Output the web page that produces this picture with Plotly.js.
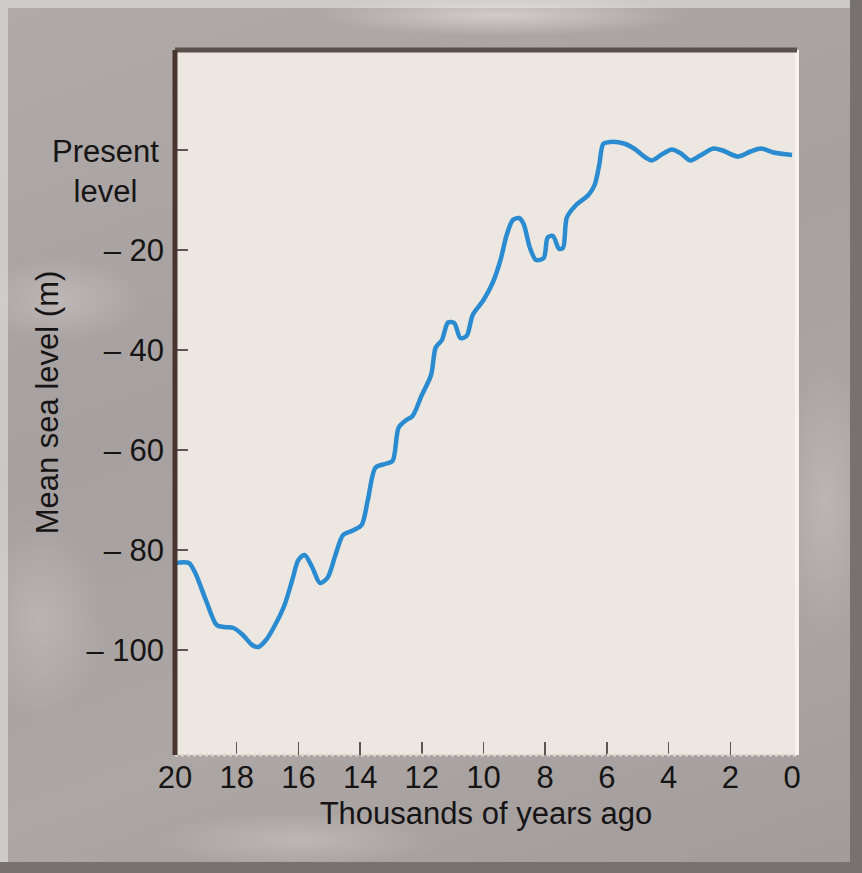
<!DOCTYPE html>
<html>
<head>
<meta charset="utf-8">
<script src="https://cdn.plot.ly/plotly-3.0.1.min.js"></script>
<style>
  html, body { margin: 0; padding: 0; }
  #wrap {
    position: relative; width: 862px; height: 873px; overflow: hidden;
    background:
      radial-gradient(ellipse 120px 60px at 60px 300px, rgba(225,220,218,0.35), rgba(0,0,0,0) 70%),
      radial-gradient(ellipse 90px 140px at 40px 620px, rgba(225,220,218,0.30), rgba(0,0,0,0) 70%),
      radial-gradient(ellipse 200px 40px at 300px 840px, rgba(225,220,215,0.35), rgba(0,0,0,0) 70%),
      radial-gradient(ellipse 260px 30px at 500px 15px, rgba(240,236,232,0.55), rgba(0,0,0,0) 70%),
      radial-gradient(ellipse 60px 200px at 825px 500px, rgba(215,210,205,0.35), rgba(0,0,0,0) 70%),
      linear-gradient(160deg, #b0aba9 0%, #a6a1a0 40%, #aca7a5 70%, #a19c9b 100%);
    box-shadow: inset -12px -11px 0 #77716f, inset 8px 8px 0 rgba(240,238,235,0.5);
  }
  #chart { position: absolute; left: 0; top: 0; }
</style>
</head>
<body>
<div id="wrap"><div id="chart"></div></div>
<script>
// Thousands of years ago
var years = [20.0, 19.55, 19.35, 19.0, 18.65, 18.4, 18.1, 17.8, 17.5, 17.3, 17.05, 16.8, 16.45, 16.2, 16.0, 15.8, 15.55, 15.3, 15.05, 14.8, 14.55, 14.2, 13.95, 13.75, 13.5, 13.2, 12.95, 12.75, 12.5, 12.3, 12.0, 11.7, 11.55, 11.35, 11.15, 10.95, 10.75, 10.55, 10.35, 10.0, 9.7, 9.45, 9.25, 9.05, 8.85, 8.7, 8.5, 8.3, 8.05, 7.92, 7.75, 7.55, 7.42, 7.3, 7.0, 6.6, 6.4, 6.25, 6.12, 5.9, 5.45, 5.1, 4.75, 4.55, 4.2, 3.9, 3.6, 3.3, 2.95, 2.55, 2.25, 1.75, 1.35, 1.0, 0.6, 0.0];
// Mean sea level relative to present (m)
var seaLevel = [-82.6, -82.6, -84.5, -90, -95, -95.4, -95.6, -97, -99, -99.4, -98, -95.5, -91, -86, -82, -81, -83.5, -86.6, -85.5, -81, -77, -76, -75, -70, -63.5, -62.8, -62.2, -55.5, -54, -53.2, -49, -45, -39.5, -38, -34.5, -34.6, -37.6, -37.2, -33, -30, -26.5, -22, -17, -14, -13.6, -14.8, -19.5, -22, -21.6, -17.5, -17.2, -19.8, -19.5, -13.5, -11, -9, -7, -3, 1.2, 1.6, 1.3, 0.2, -1.5, -2.1, -0.8, 0.1, -0.7, -2.1, -1.0, 0.3, -0.1, -1.3, -0.3, 0.3, -0.5, -1.0];

var xTickVals = [20, 18, 16, 14, 12, 10, 8, 6, 4, 2, 0];
var xTickText = ['20', '18', '16', '14', '12', '10', '8', '6', '4', '2', '0'];
var xInnerTicks = [18, 16, 14, 12, 10, 8, 6, 4, 2];
var yTickVals = [0, -20, -40, -60, -80, -100];
var yTickText = ['', '\u2013 20', '\u2013 40', '\u2013 60', '\u2013 80', '\u2013 100'];
var presentLabel = 'Present<br>level';

var FONT = 'Liberation Sans, Arial, Helvetica, sans-serif';
var FS = 31;
var TXT = '#161414';
var xRange = [20, -0.16];

var trace = {
  x: years, y: seaLevel, type: 'scatter', mode: 'lines',
  line: { color: '#2a8bd0', width: 4.5, shape: 'spline', smoothing: 0.8 },
  hoverinfo: 'skip', showlegend: false
};

var layout = {
  width: 862, height: 873,
  margin: { l: 175, r: 65, t: 50, b: 118, pad: 0 },
  paper_bgcolor: 'rgba(0,0,0,0)',
  plot_bgcolor: '#ece8e1',
  font: { family: FONT, color: TXT, size: FS },
  xaxis: {
    range: xRange, tickvals: xTickVals, ticktext: xTickText,
    ticks: '', showgrid: false, zeroline: false, showline: false,
    tickfont: { size: FS, color: TXT }, ticklabelstandoff: 1,
    title: { text: 'Thousands of years ago', font: { size: FS, color: TXT }, standoff: 8 },
    fixedrange: true
  },
  xaxis2: {
    overlaying: 'x', matches: 'x', range: xRange, tickvals: xInnerTicks,
    showticklabels: false, ticks: 'inside', ticklen: 13, tickwidth: 1.5, tickcolor: '#5c5552',
    showgrid: false, zeroline: false, showline: false, side: 'bottom'
  },
  yaxis: {
    range: [-121, 20], tickvals: yTickVals, ticktext: yTickText,
    ticks: 'inside', ticklen: 13, tickwidth: 1.5, tickcolor: '#5c5552',
    showgrid: false, zeroline: false, showline: false,
    tickfont: { size: FS, color: TXT }, ticklabelstandoff: 10,
    title: { text: 'Mean sea level (m)', font: { size: FS, color: TXT }, standoff: 18 },
    fixedrange: true
  },
  annotations: [
    { text: presentLabel, xref: 'paper', yref: 'y', x: 0, y: 0, xanchor: 'right', yanchor: 'middle',
      xshift: -14, yshift: -21, align: 'center', showarrow: false, font: { size: FS, color: TXT } }
  ],
  shapes: [
    { type: 'line', xref: 'paper', yref: 'paper', x0: 0, x1: 1, y0: 0, y1: 0, line: { color: '#dcd7d0', width: 3, dash: 'dot' }, layer: 'above' },
    { type: 'line', xref: 'paper', yref: 'paper', x0: 1, x1: 1, y0: 0, y1: 1, line: { color: '#f6f3ee', width: 4 }, layer: 'above' },
    { type: 'line', xref: 'paper', yref: 'paper', x0: 0, x1: 1, y0: 1, y1: 1, line: { color: '#5a504c', width: 5 }, layer: 'above' },
    { type: 'line', xref: 'paper', yref: 'paper', x0: 0, x1: 0, y0: 0, y1: 1, line: { color: '#4a3430', width: 5 }, layer: 'above' }
  ]
};

Plotly.newPlot('chart', [trace, { x: [], y: [], xaxis: 'x2', type: 'scatter', showlegend: false }], layout, { staticPlot: true, displayModeBar: false });
</script>
</body>
</html>
